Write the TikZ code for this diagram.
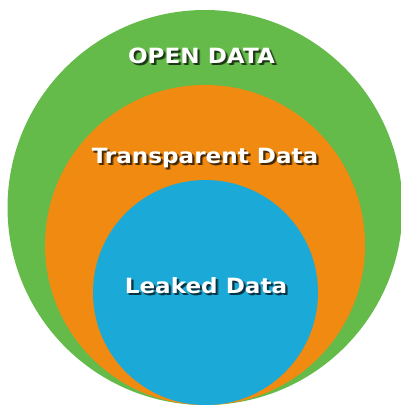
\documentclass[tikz,border=0pt]{standalone}
\usepackage{fontspec}
\setmainfont{DejaVu Sans}
\definecolor{opengreen}{HTML}{65BB4A}
\definecolor{transorange}{HTML}{F08A10}
\definecolor{leakblue}{HTML}{1BA9D8}
\tikzset{
  lbl/.style={text=white, font=\bfseries\fontsize{21}{25}\selectfont, inner sep=0pt, anchor=base, xscale=1.1},
  shadowlbl/.style={lbl, text=black, opacity=0.33},
}
\begin{document}
\begin{tikzpicture}[x=1pt,y=-1pt]
\useasboundingbox (0,0) rectangle (401,405);
\clip (0,0) rectangle (401,405);
\fill[opengreen] (205,207.5) circle[radius=197.5];
\fill[transorange] (205,245) circle[radius=160];
\fill[leakblue] (205.5,292.5) circle[radius=112.5];
% shadows
\foreach \dx/\dy in {2/2,2.8/2.8,1.5/2.5}{
  \node[shadowlbl] (s1) at (201.5+\dx,63+\dy) {OPEN DATA};
  \node[shadowlbl] (s2) at (205+\dx,163+\dy) {Transparent Data};
  \node[shadowlbl] (s3) at (206+\dx,293+\dy) {Leaked Data};
}
\node[lbl] (open) at (201.5,63) {OPEN DATA};
\node[lbl] (trans) at (205,163) {Transparent Data};
\node[lbl] (leak) at (206,293) {Leaked Data};
\end{tikzpicture}
\end{document}
